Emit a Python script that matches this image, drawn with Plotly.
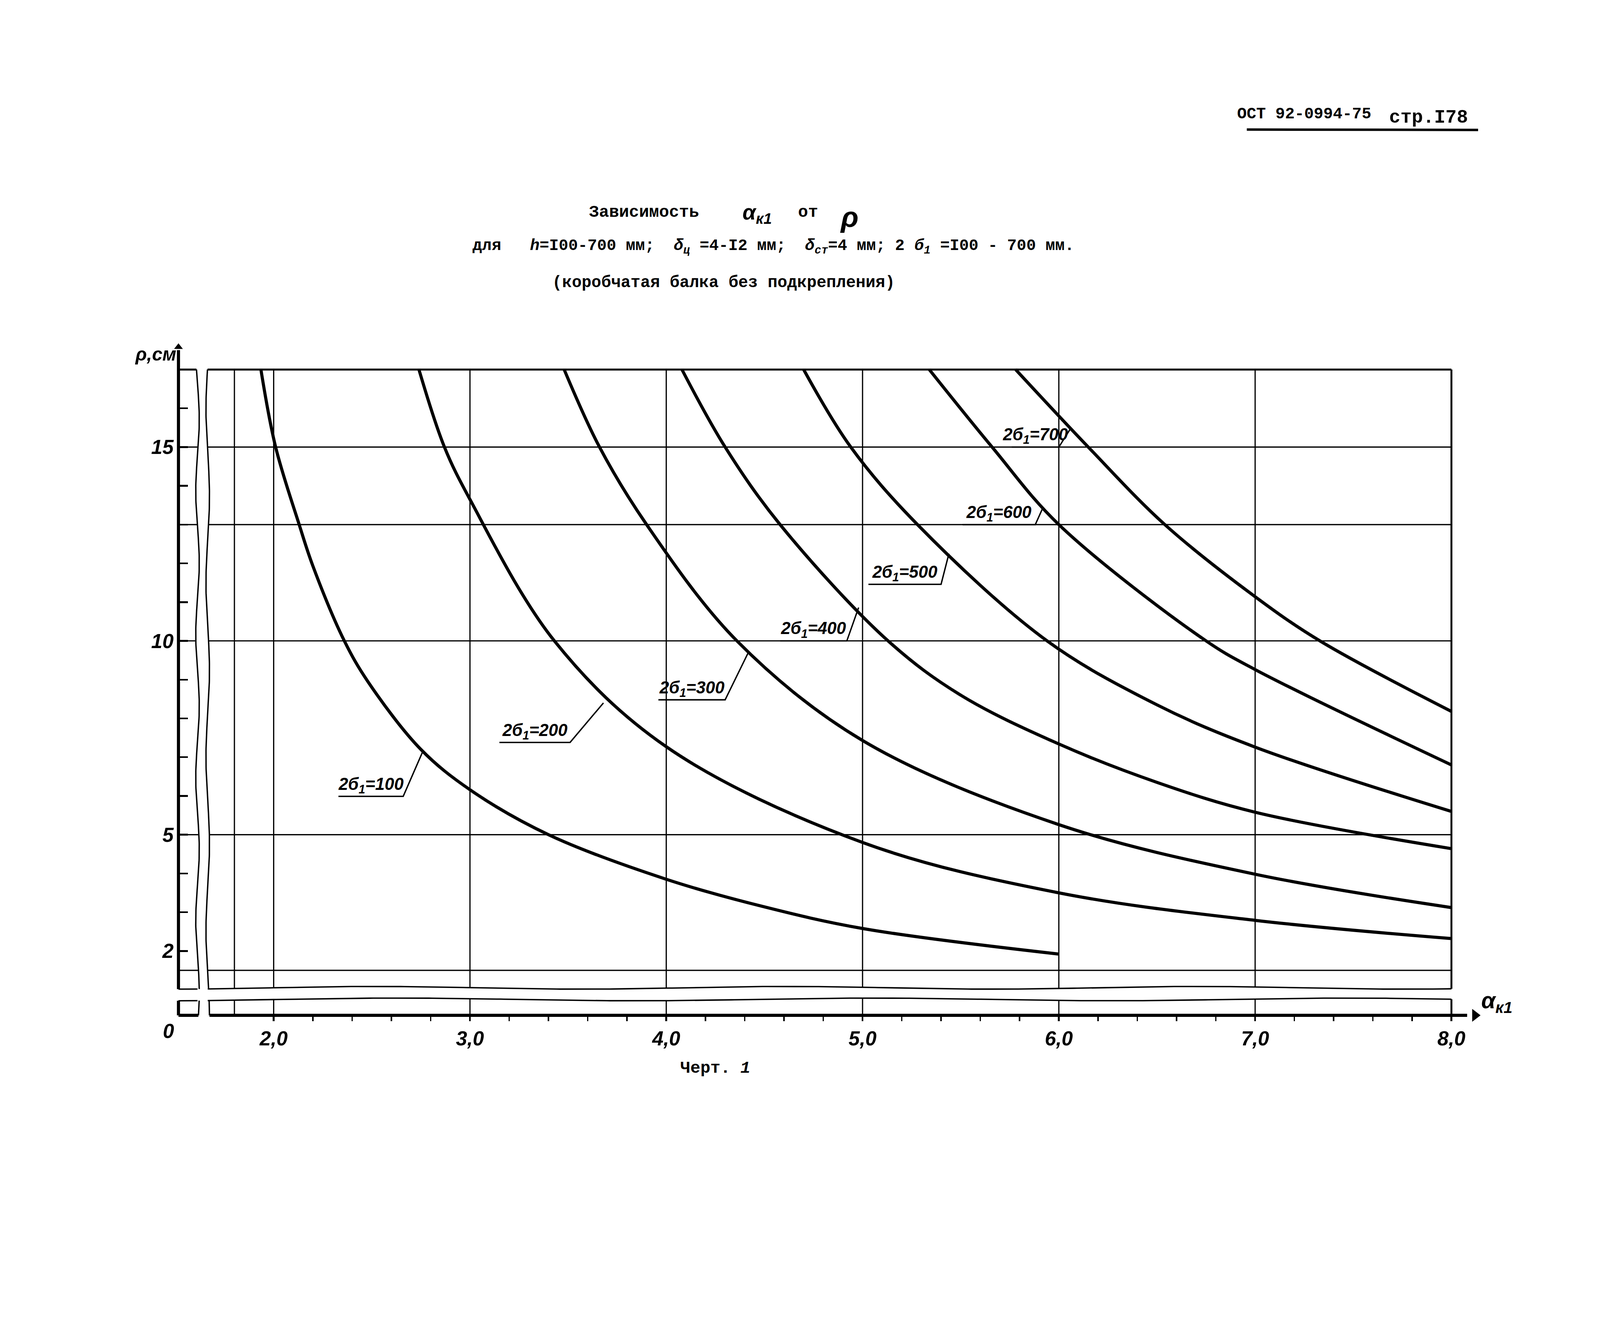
import numpy as np
import plotly.graph_objects as go

W, H = 4607, 3425

# ---------------- data ----------------
B_VALUES = [100, 200, 300, 400, 500, 600, 700]

ALPHA_100 = [1.935, 2.01, 2.13, 2.20, 2.36, 2.48, 2.75, 3.0, 3.40, 4.0, 4.49, 5.0, 6.0]
RHO_100 = [17.0, 15.0, 13.0, 11.93, 10.0, 8.95, 7.2, 6.16, 5.0, 3.85, 3.15, 2.58, 1.92]

ALPHA_200 = [2.74, 2.87, 3.0, 3.43, 4.0, 5.0, 6.0, 7.0, 8.0]
RHO_200 = [17.0, 15.0, 13.65, 10.0, 7.27, 4.8, 3.50, 2.79, 2.32]

ALPHA_300 = [3.48, 3.66, 3.90, 4.36, 5.0, 6.0, 7.0, 8.0]
RHO_300 = [17.0, 15.0, 13.0, 10.0, 7.43, 5.26, 3.98, 3.12]

ALPHA_400 = [4.08, 4.30, 4.58, 5.13, 5.5, 6.0, 6.5, 7.0, 8.0]
RHO_400 = [17.0, 15.0, 13.0, 10.0, 8.6, 7.34, 6.35, 5.58, 4.64]

ALPHA_500 = [4.70, 4.94, 5.28, 5.94, 6.5, 7.0, 8.0]
RHO_500 = [17.0, 15.0, 13.0, 10.0, 8.35, 7.26, 5.6]

ALPHA_600 = [5.34, 5.66, 6.0, 6.75, 7.0, 8.0]
RHO_600 = [17.0, 15.0, 13.0, 10.0, 9.26, 6.8]

ALPHA_700 = [5.78, 6.15, 6.54, 7.0, 7.33, 8.0]
RHO_700 = [17.0, 15.0, 13.0, 11.14, 10.0, 8.18]

CURVES = {
    100: (ALPHA_100, RHO_100),
    200: (ALPHA_200, RHO_200),
    300: (ALPHA_300, RHO_300),
    400: (ALPHA_400, RHO_400),
    500: (ALPHA_500, RHO_500),
    600: (ALPHA_600, RHO_600),
    700: (ALPHA_700, RHO_700),
}

X_TICKS = [2, 3, 4, 5, 6, 7, 8]
X_TICK_TEXT = ["2,0", "3,0", "4,0", "5,0", "6,0", "7,0", "8,0"]
X_MINOR_TICKS = [2.2, 2.4, 2.6, 2.8, 3.2, 3.4, 3.6, 3.8, 4.2, 4.4, 4.6, 4.8,
                 5.2, 5.4, 5.6, 5.8, 6.2, 6.4, 6.6, 6.8, 7.2, 7.4, 7.6, 7.8]
Y_TICKS = [2, 5, 10, 15]
Y_TICK_TEXT = ["2", "5", "10", "15"]
Y_MINOR_TICKS = [3, 4, 6, 7, 8, 9, 11, 12, 13, 14, 16, 17]
GRID_X = [1.8, 2, 3, 4, 5, 6, 7]
GRID_Y = [1.5, 5, 10, 13, 15]

# label placement (underline from x0..x1 at yu, leader to the curve at xe, ye)
LABEL_POS = {
    100: (2.33, 2.66, 5.99, 2.76, 7.15),
    200: (3.15, 3.51, 7.38, 3.68, 8.40),
    300: (3.96, 4.30, 8.48, 4.42, 9.72),
    400: (4.58, 4.92, 10.0, 4.98, 10.86),
    500: (5.03, 5.40, 11.46, 5.44, 12.25),
    600: (5.51, 5.88, 13.0, 5.92, 13.45),
    700: (5.76, 6.00, 15.0, 6.06, 15.48),
}

# ---------------- geometry of the drawing ----------------
X_AXIS0, Y_AXIS0 = 1.515, 0.34
X_END, Y_TOP = 8.0, 17.0
XR = [1.49, 8.3]
YR = [0.30, 17.9]


def px_x(v):
    return 788 + (v - 2) * 565.2


def py_y(v):
    return 1064 + (17 - v) * 111.6


dom_x = [px_x(XR[0]) / W, px_x(XR[1]) / W]
dom_y = [1 - py_y(YR[0]) / H, 1 - py_y(YR[1]) / H]

HAND = "Liberation Sans Narrow, Liberation Sans, Arial, sans-serif"
TYPE = "Liberation Mono, DejaVu Sans Mono, monospace"
INK = "#000000"

fig = go.Figure()

# curves
for b in B_VALUES:
    xs, ys = CURVES[b]
    fig.add_trace(go.Scatter(
        x=xs, y=ys, mode="lines", line=dict(color=INK, width=9, shape="spline", smoothing=1.0),
        name=f"2б1={b}", showlegend=False, hoverinfo="skip"))

# label leaders
lx, ly = [], []
for b in B_VALUES:
    x0, x1, yu, xe, ye = LABEL_POS[b]
    lx += [x0, x1, xe, None]
    ly += [yu, yu, ye, None]
fig.add_trace(go.Scatter(x=lx, y=ly, mode="lines", line=dict(color=INK, width=4),
                         showlegend=False, hoverinfo="skip"))


# break bands (decorative wavy gaps of the broken axes)
def wav(t, base, amp, freq, ph):
    return base + amp * np.sin(freq * np.asarray(t) + ph)


def edge_a(y):
    return wav(y, 1.612, 0.009, 1.7, 0.0)


def edge_b(y):
    return wav(y, 1.664, 0.009, 1.4, 1.2)


def edge_c(x):
    return wav(x, 1.05, 0.035, 3.0, 0.3)


def edge_d(x):
    return wav(x, 0.75, 0.035, 2.6, 1.0)


yy = np.linspace(0.28, 17.05, 300)
fig.add_trace(go.Scatter(
    x=np.concatenate([edge_a(yy), edge_b(yy[::-1])]),
    y=np.concatenate([yy, yy[::-1]]),
    mode="lines", fill="toself", fillcolor="white", line=dict(width=0, color="white"),
    showlegend=False, hoverinfo="skip"))
xx = np.linspace(1.48, 8.03, 400)
fig.add_trace(go.Scatter(
    x=np.concatenate([xx, xx[::-1]]),
    y=np.concatenate([edge_d(xx), edge_c(xx[::-1])]),
    mode="lines", fill="toself", fillcolor="white", line=dict(width=0, color="white"),
    showlegend=False, hoverinfo="skip"))

ex, ey = [], []
for fn in (edge_a, edge_b):
    xm = float(fn(1.0))
    y1 = np.linspace(Y_AXIS0, float(edge_d(xm)), 40)
    y2 = np.linspace(float(edge_c(xm)), Y_TOP, 300)
    ex += list(fn(y1)) + [None] + list(fn(y2)) + [None]
    ey += list(y1) + [None] + list(y2) + [None]
for fn in (edge_c, edge_d):
    x1 = np.linspace(X_AXIS0, 1.612, 20)
    x2 = np.linspace(1.664, X_END, 400)
    ex += list(x1) + [None] + list(x2) + [None]
    ey += list(fn(x1)) + [None] + list(fn(x2)) + [None]
fig.add_trace(go.Scatter(x=ex, y=ey, mode="lines", line=dict(color=INK, width=4),
                         showlegend=False, hoverinfo="skip"))

# arrowheads of the axes
fig.add_trace(go.Scatter(x=[8.12], y=[Y_AXIS0], mode="markers", cliponaxis=False,
                         marker=dict(symbol="triangle-right", size=32, color=INK),
                         showlegend=False, hoverinfo="skip"))
fig.add_trace(go.Scatter(x=[X_AXIS0], y=[17.58], mode="markers", cliponaxis=False,
                         marker=dict(symbol="triangle-up", size=22, color=INK),
                         showlegend=False, hoverinfo="skip"))

# grid / frame / axis lines as shapes below traces
shapes = []
for g in GRID_X:
    shapes.append(dict(type="line", xref="x", yref="y", x0=g, x1=g, y0=Y_AXIS0, y1=Y_TOP,
                       line=dict(color=INK, width=3.5), layer="below"))
for g in GRID_Y:
    shapes.append(dict(type="line", xref="x", yref="y", x0=X_AXIS0, x1=X_END, y0=g, y1=g,
                       line=dict(color=INK, width=3.5), layer="below"))
shapes.append(dict(type="line", xref="x", yref="y", x0=X_AXIS0, x1=X_END, y0=Y_TOP, y1=Y_TOP,
                   line=dict(color=INK, width=5.5), layer="below"))
shapes.append(dict(type="line", xref="x", yref="y", x0=X_END, x1=X_END, y0=Y_AXIS0, y1=Y_TOP,
                   line=dict(color=INK, width=5.5), layer="below"))
shapes.append(dict(type="line", xref="x", yref="y", x0=X_AXIS0, x1=X_AXIS0, y0=Y_AXIS0, y1=17.5,
                   line=dict(color=INK, width=9), layer="below"))
shapes.append(dict(type="line", xref="x", yref="y", x0=X_AXIS0, x1=8.08, y0=Y_AXIS0, y1=Y_AXIS0,
                   line=dict(color=INK, width=9), layer="below"))
# header underline
shapes.append(dict(type="line", xref="paper", yref="paper", x0=3590 / W, x1=4256 / W,
                   y0=1 - 373 / H, y1=1 - 374 / H, line=dict(color=INK, width=7)))

annotations = []


def ptxt(text, xpx, ypx, size, family=TYPE, xanchor="center", yanchor="middle"):
    annotations.append(dict(text=text, x=xpx / W, y=1 - ypx / H, xref="paper", yref="paper",
                            showarrow=False, xanchor=xanchor, yanchor=yanchor,
                            font=dict(family=family, size=size, color=INK)))


# header and title
ptxt("<b>ОСТ 92-0994-75</b>", 3755, 329, 46)
ptxt("<b>стр.I78</b>", 4113, 338, 54)
ptxt("<b>Зависимость</b>", 1854, 611, 48)
ptxt("<b><i>α<sub>к1</sub></i></b>", 2180, 615, 62, family=HAND)
ptxt("<b>от</b>", 2327, 611, 48)
ptxt("<b><i>ρ</i></b>", 2445, 625, 84, family=HAND)
ptxt("<b>для   <i>h</i>=I00-700 мм;  <i>δ<sub>ц</sub></i> =4-I2 мм;  <i>δ<sub>ст</sub></i>=4 мм; "
     "2 <i>б<sub>1</sub></i> =I00 - 700 мм.</b>", 2227, 711, 46)
ptxt("<b>(коробчатая балка без подкрепления)</b>", 2083, 814, 47)
ptxt("<b>Черт. <i>1</i></b>", 2060, 3076, 48)

# axis names and origin
ptxt("<b><i>ρ,см</i></b>", 448, 1019, 54, family=HAND)
ptxt("<b><i>α<sub>к1</sub></i></b>", 4310, 2885, 66, family=HAND)
ptxt("<b><i>0</i></b>", 485, 2967, 58, family=HAND)

# curve labels
for b in B_VALUES:
    x0, x1, yu, xe, ye = LABEL_POS[b]
    annotations.append(dict(text=f"<b><i>2б<sub>1</sub>={b}</i></b>", x=(x0 + x1) / 2, y=yu,
                            xref="x", yref="y", showarrow=False, xanchor="center",
                            yanchor="bottom", yshift=0,
                            font=dict(family=HAND, size=49, color=INK)))

tick_font = dict(family=HAND, size=58, color=INK, weight="bold", style="italic")

fig.update_layout(
    width=W, height=H, margin=dict(l=0, r=0, t=0, b=0),
    paper_bgcolor="white", plot_bgcolor="white", showlegend=False,
    shapes=shapes, annotations=annotations,
    xaxis=dict(domain=dom_x, range=XR, anchor="free", position=1 - py_y(Y_AXIS0) / H,
               showgrid=False, zeroline=False, showline=False,
               tickmode="array", tickvals=X_TICKS, ticktext=X_TICK_TEXT,
               ticks="outside", ticklen=16, tickwidth=5, tickcolor=INK,
               tickfont=tick_font, ticklabelstandoff=0,
               minor=dict(tickmode="array", tickvals=X_MINOR_TICKS, ticks="outside",
                          ticklen=16, tickwidth=4, tickcolor=INK, showgrid=False)),
    yaxis=dict(domain=dom_y, range=YR, anchor="free", position=px_x(X_AXIS0) / W,
               showgrid=False, zeroline=False, showline=False,
               tickmode="array", tickvals=Y_TICKS, ticktext=Y_TICK_TEXT,
               ticks="inside", ticklen=26, tickwidth=5, tickcolor=INK,
               tickfont=tick_font, ticklabelstandoff=14,
               minor=dict(tickmode="array", tickvals=Y_MINOR_TICKS, ticks="inside",
                          ticklen=26, tickwidth=5, tickcolor=INK, showgrid=False)),
)

POST = """
(function(){
  document.documentElement.style.margin='0';
  document.body.style.margin='0';
  document.body.style.overflow='hidden';
  var f = window.innerWidth / %d;
  var d = document.getElementById('{plot_id}');
  d.style.transformOrigin = '0 0';
  d.style.transform = 'scale(' + f + ')';
})();
""" % W

fig.write_html("out.html", post_script=POST, config={"displayModeBar": False})
